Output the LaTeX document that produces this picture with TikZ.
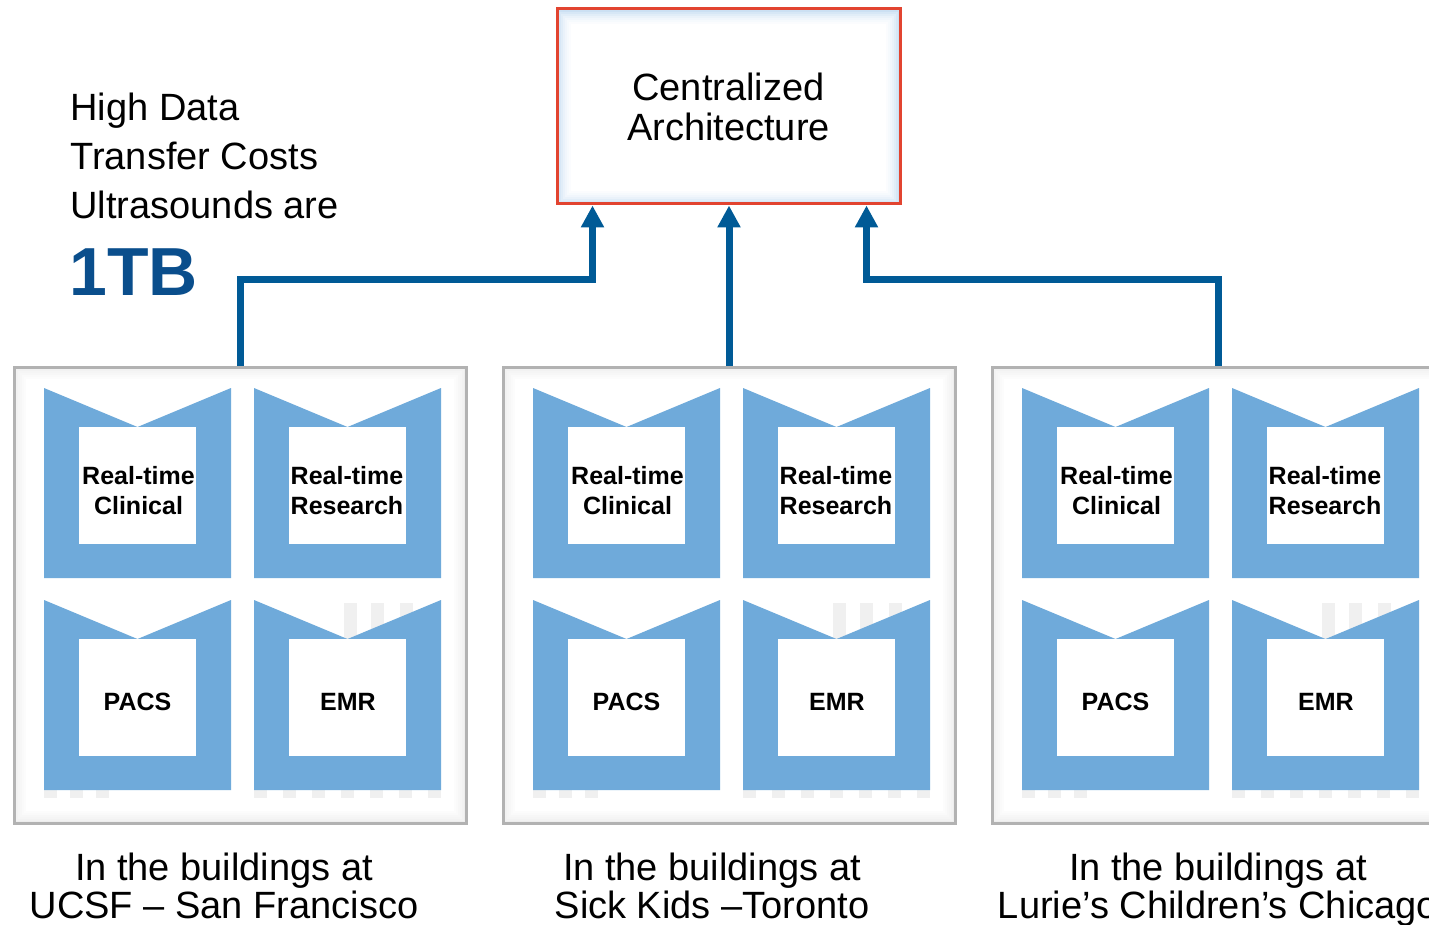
\documentclass[tikz,border=0pt]{standalone}
\usepackage{fontspec}
\setmainfont{Liberation Sans}
\usepackage{tikz}
\usetikzlibrary{arrows.meta}
\definecolor{ArchRed}{RGB}{226,68,48}
\definecolor{ArchGlow}{RGB}{204,224,243}
\definecolor{FeedBlue}{RGB}{0,90,150}
\definecolor{CostBlue}{RGB}{10,78,140}
\definecolor{TileBlue}{RGB}{111,170,218}
\definecolor{SiteEdge}{RGB}{178,178,178}

\begin{document}
\begin{tikzpicture}[x=0.5pt,y=-0.5pt,
  feed/.style={draw=FeedBlue,line width=3.5pt,-{Triangle[width=11pt,length=11pt]}},
  site/.style={draw=SiteEdge,line width=1.5pt,minimum width=226pt,minimum height=228pt,inner sep=0pt},
  tile/.style={fill=TileBlue},
  tlabel/.style={font=\fontsize{12.5}{15}\selectfont\bfseries,align=center,inner sep=0pt},
  place/.style={font=\fontsize{19}{19}\selectfont,align=center,anchor=north,inner sep=0pt}]
\useasboundingbox (0,0) rectangle (1429,925);

% central box, soft blue glow inside the red frame
\foreach \k/\v in {0/100,1/78,2/58,3/42,4/28,5/17,6/8,7/0}
   \fill[ArchGlow!\v] (557+2*\k,10+2*\k) rectangle (900-2*\k,205-2*\k);
\node[draw=ArchRed,line width=1.5pt,minimum width=171.5pt,minimum height=97.5pt,
   font=\fontsize{19}{20}\selectfont,align=center] (arch) at (728.5,106.5) {Centralized\\Architecture};

% the three sites with their four systems
\foreach \i/\n in {0/1,1/2,2/3} {
   \pgfmathsetmacro\sx{14+489*\i}
   \foreach \k/\v in {0/7,1/5,2/4,3/3,4/2,5/1,6/0}
      \fill[black!\v] (\sx+2*\k,367+2*\k) rectangle (\sx+452-2*\k,823-2*\k);
   \node[site] (site\n) at (\sx+226,595) {};
   \foreach \d in {0,26,52}
      \fill[black!6] (\sx+30+\d,790) rectangle +(13,8);
   \foreach \d in {0,29,...,174}
      \fill[black!6] (\sx+240+\d,790) rectangle +(13,8);
   \foreach \d in {90,117,146}
      \fill[black!6] (\sx+240+\d,603) rectangle (\sx+253+\d,790);
   \foreach \c/\r in {0/0,1/0,0/1,1/1} {
      \pgfmathsetmacro\tx{\sx+30+210*\c}
      \pgfmathsetmacro\ty{388+212*\r}
      \fill[tile] (\tx,\ty) -- ++(93.5,39) -- ++(93.5,-39) -- ++(0,190) -- ++(-187,0) -- cycle;
      \fill[white] (\tx+35,\ty+39) rectangle +(117,117);
   }
   \node[tlabel] (clin\n) at (\sx+124.5,491) {Real-time\\Clinical};
   \node[tlabel] (res\n) at (\sx+333,491) {Real-time\\Research};
   \node[tlabel] (pacs\n) at (\sx+123.5,702) {PACS};
   \node[tlabel] (emr\n) at (\sx+334,702) {EMR};
}

% data feeds up to the centre
\draw[feed] (site2.north) -- (site2.north |- arch.south);
\draw[feed] (site1.north) |- ([xshift=-68pt,yshift=-37pt]arch.south) -- ([xshift=-68pt]arch.south);
\draw[feed] (site3.north) |- ([xshift=69pt,yshift=-37pt]arch.south) -- ([xshift=69pt]arch.south);

\foreach \y/\lbl [count=\j] in {121/High Data,170/Transfer Costs,219/Ultrasounds are}
   \node[anchor=base west,inner sep=0pt,font=\fontsize{19}{20}\selectfont] (cost\j) at (70,\y) {\lbl};
\node[anchor=base west,inner sep=0pt,text=CostBlue,font=\fontsize{34}{36}\selectfont\bfseries] (size) at (69,295) {1TB};

\foreach \x/\n/\lbl in {224/1/{UCSF – San Francisco},712/2/{Sick Kids –Toronto},1218/3/{Lurie’s Children’s Chicago}}
   \node[place] (loc\n) at (\x,853) {In the buildings at\\\lbl};
\end{tikzpicture}
\end{document}
